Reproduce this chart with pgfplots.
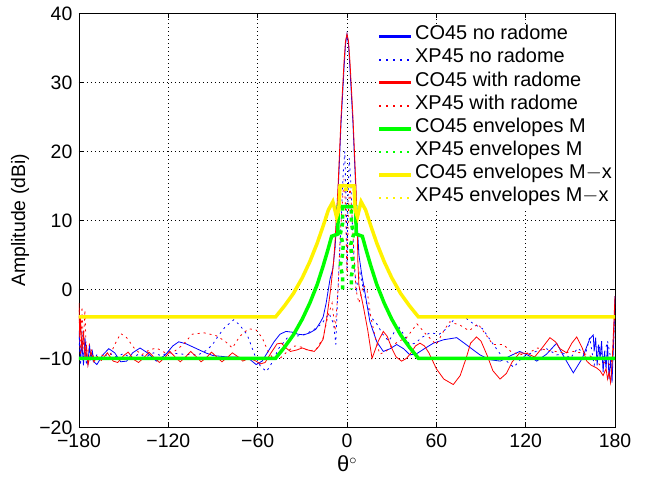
\documentclass[border=0pt]{standalone}
\usepackage{fontspec}
\setmainfont{Liberation Sans}
\usepackage{pgfplots}
\pgfplotsset{compat=1.18}
\begin{document}
\fontsize{19.5}{22}\selectfont
\begin{tikzpicture}
\begin{axis}[
  scale only axis, width=536bp, height=414bp,
  xmin=-180, xmax=180, ymin=-20, ymax=40,
  xtick={-180,-120,-60,0,60,120,180},
  xticklabels={−180,−120,−60,0,60,120,180},
  ytick={-20,-10,0,10,20,30,40},
  yticklabels={−20,−10,0,10,20,30,40},
  tick align=inside, major tick length=5bp,
  tick style={black, line width=0.6bp},
  axis line style={line width=0.8bp},
  grid=major,
  grid style={black, line width=0.6bp, dash pattern=on 0.6bp off 3.4bp},
  every axis y label/.style={at={(axis description cs:-0.11,0.5)}, rotate=90, anchor=center},
  every axis x label/.style={at={(axis description cs:0.5,-0.088)}, anchor=center},
  ylabel={Amplitude (dBi)},
  xlabel={\fontsize{22}{24}\selectfont θ$^{\circ}$},
  legend cell align=left,
  legend style={at={(1,0.975)}, anchor=north east, draw=none, fill=white,
    inner sep=1bp, row sep=0pt,
    nodes={inner ysep=0bp, inner xsep=2bp, text height=15bp, text depth=8.1bp, font=\fontsize{20}{22}\selectfont}},
  legend image code/.code={\draw[#1] (0bp,0bp) -- (32bp,0bp);},
]
% CO45 no radome
\addplot[blue, line width=0.8bp, legend image post style={line width=2.5bp}] coordinates {
(-180,-6)(-179,-10)(-178,-8)(-177,-11)(-176,-7)(-175,-9.5)(-174,-10.8)(-173,-8)(-172,-10)(-171,-9)(-170,-10.5)
(-168,-10.9)(-164,-9.5)(-160,-8.6)(-156,-9.2)(-152,-10.5)(-148,-10.4)(-144,-9.2)(-139,-8.5)(-134,-9.2)
(-128,-10.4)(-122,-9.5)(-117,-8.2)(-113,-7.6)(-108,-7.9)(-104,-8.3)(-99,-8.8)(-95,-9.2)(-90,-9.6)(-85,-9.7)
(-80,-9.8)(-75,-9.8)(-70,-9.9)(-65,-10.2)(-61,-10.9)(-57,-10.4)(-53,-9.0)(-49,-7.6)(-45,-6.5)(-41,-6.1)
(-37,-6.2)(-33,-6.5)(-29,-6.6)(-25,-6.3)(-21,-5.8)(-18,-4.8)(-16,-4)(-14,-2)(-11.4,1.5)(-9.5,3)(-8,6)
(-7,10)(-6,14)(-5,19)(-4,24)(-3,28)(-2,32)(-1,35.5)(0,37)(1,35.5)(2,32)(3,28)(4,24)(5,19)(6,14)(7,9)
(8,5)(10,2)(12,-0.4)(15.4,-4.7)(20,-7.6)(24.4,-9)(29,-8.6)(33.4,-8.0)(38,-8.6)(42.3,-9.5)(47,-9.3)
(52,-8.6)(58,-7.8)(65,-7.3)(73.7,-7.0)(80,-8)(89.3,-9.5)(96,-10.2)(103,-10.4)(110,-9.6)(116,-9.0)
(122,-9.6)(127.4,-10.4)(134,-9.4)(140.8,-7.8)(145,-9.5)(152,-12.1)(158,-10)(163,-7.2)(165.4,-6.6)
(166,-9)(167,-7)(168,-11)(169,-8)(170,-10)(171,-7.5)(172,-12)(173,-9)(174,-11.5)(175,-8)(176,-13)
(177,-10)(178,-13.5)(179,-8)(180,-1)
};
\addlegendentry{CO45 no radome}
% XP45 no radome
\addplot[blue, line width=0.8bp, dash pattern=on 2bp off 4bp, legend image post style={blue, line width=2bp, dash pattern=on 2bp off 5bp}] coordinates {
(-180,-7)(-179,-11)(-178,-6)(-177,-10)(-176,-8)(-175,-11)(-173,-9)(-171,-10.5)(-168,-9.5)(-164,-10)
(-160,-9.2)(-155,-9.8)(-150,-9.3)(-145,-10)(-140,-9.4)(-135,-9.8)(-130,-9.2)(-125,-9.6)(-120,-9.2)
(-110,-9.4)(-100,-9.5)(-94,-8.8)(-90,-7.9)(-86,-6.6)(-82,-5.5)(-76,-4.4)(-72,-5.2)(-67,-6.6)(-62,-9.5)
(-58,-11.2)(-54,-11.9)(-50,-10.5)(-46,-8.6)(-40,-7)(-34,-6.8)(-28,-6.5)(-22,-5.8)(-17,-5)(-12,-3.5)
(-9,-5)(-7.5,-8)(-6.5,-2)(-5,5)(-3.5,12)(-2.5,17)(-1.5,20)(-0.5,12)(0,3)(0.5,12)(1.5,19)(2.5,16)
(3.5,10)(5,3)(6.5,0)(8.7,2.4)(11,0)(13.4,-2.3)(16,-4)(20,-5)(24,-6.5)(28,-7.5)(31,-6.5)(34,-5.2)
(38,-6.5)(42,-8)(46,-7.8)(50,-7)(55.7,-6.3)(62,-6.5)(68,-5.5)(72,-4.3)(76,-3.7)(80,-4.2)(85,-5)
(91,-5.7)(98,-7.9)(105,-10)(112,-11.3)(118,-9.8)(124,-9.2)(130,-8.8)(134,-8.6)(141,-9.5)(146,-9.3)
(150,-10)(155,-8.5)(160,-9.5)(163,-7)(166,-11)(169,-8)(172,-10)(175,-7.5)(178,-11)(180,-3)
};
\addlegendentry{XP45 no radome}
% CO45 with radome
\addplot[red, line width=0.8bp, legend image post style={line width=2.5bp}] coordinates {
(-180,-2)(-179.5,-7)(-179,-4)(-178,-9)(-177,-6)(-176,-10)(-175,-8)(-174,-11)(-172,-9)(-170,-10.5)
(-168,-9.8)(-165,-10.3)(-161,-9.2)(-157,-10.4)(-154,-10.6)(-150,-9.6)(-147,-9.1)(-143,-10.2)(-140,-10.6)
(-136,-9.8)(-133,-9.1)(-129,-10)(-126,-10.6)(-122,-9.8)(-119,-9.0)(-115,-9.9)(-112,-10.5)(-108,-9.7)
(-105,-9.0)(-101,-9.8)(-98,-10.5)(-94,-9.8)(-91,-9.1)(-87,-9.9)(-84,-10.5)(-80,-9.8)(-77,-9.2)
(-73,-9.8)(-70,-10.4)(-66,-10.0)(-62,-10.3)(-58,-10.8)(-55,-10.6)(-51,-9.2)(-47,-7.9)(-44,-7.8)
(-41,-8.5)(-38,-9.0)(-34,-8.8)(-30,-8.5)(-26,-8.8)(-22,-9.0)(-19,-8.3)(-16,-7.2)(-13.6,-4.2)
(-11,0)(-9,4)(-8,7)(-7,11)(-6,15)(-5,20)(-4,25)(-3,29)(-2,33)(-1,36)(0,37)(1,36)(2,33)(3,29)(4,25)
(5,20)(6,15)(6.8,10)(7.3,4)(8,0.6)(11,-2.5)(14,-6)(16.8,-10)(17.7,-9.5)(21,-7.5)(24.4,-6.1)(27,-6.8)
(30,-8.5)(33,-9.8)(36.7,-10.4)(40,-10)(43,-9.2)(46,-8.2)(49,-7.8)(52,-8.2)(55,-9.2)(60,-11.5)
(65,-13)(71.4,-13.8)(76,-12.5)(80,-10)(83,-7.8)(87,-6.9)(90,-7.5)(94,-9.5)(98,-11.8)(102.8,-13)
(107,-12.2)(111,-10.5)(116,-9.2)(121,-9.3)(126,-9.8)(131,-8.5)(136.3,-7)(140,-7.6)(143,-8.6)
(147.5,-9.2)(151,-7.8)(154.3,-6.9)(158,-8.5)(161,-10.4)(164,-11)(167.7,-11.4)(170,-11.8)(172,-12.5)
(174,-11.5)(175,-13)(176,-12)(177,-13.5)(178,-11)(179,-6)(180,-1)
};
\addlegendentry{CO45 with radome}
% XP45 with radome
\addplot[red, line width=0.8bp, dash pattern=on 2bp off 4bp, legend image post style={red, line width=2bp, dash pattern=on 2bp off 5bp}] coordinates {
(-180,-3)(-179,-10)(-178,-2.5)(-177,-8)(-176,-3)(-175,-10)(-173,-8)(-170,-10)(-165,-9.5)(-160,-10)
(-156,-8)(-152,-6.4)(-148,-7)(-143,-8.5)(-138,-9.5)(-133,-8.8)(-128,-8.5)(-122,-9.2)(-116,-9)
(-110,-8)(-104,-6.5)(-96,-6.3)(-88,-6.7)(-82,-7.5)(-77,-8.5)(-72,-6.8)(-66,-5.7)(-61,-5.9)(-57,-7)
(-53,-9)(-49,-10.2)(-45,-10)(-40,-9)(-35,-8.2)(-30,-8.4)(-25,-9.0)(-20,-8.5)(-16,-7)(-13,-4)(-10,-2)
(-8,-6)(-6,0)(-4.5,8)(-3,13)(-2,16)(-1,12)(0,2)(1,12)(2,15)(3,12)(4.5,6)(6,0)(8,-2)(11,0.6)(13.4,0)
(16,-4)(19,-7)(22,-9.4)(26,-9)(30,-8.2)(35,-7.5)(40,-7)(47,-5)(53,-6.5)(60,-8)(65,-6)(69,-4.7)
(76,-5.2)(82,-6)(88,-5)(93,-6.5)(98,-8)(105,-8)(110,-9)(116,-9.5)(122,-9.2)(128,-8.5)(134,-8.8)
(140,-9)(146,-9.2)(152,-9)(157,-9.2)(162,-9.5)(166,-10)(170,-11)(174,-10.5)(177,-11)(179,-9)(180,-2)
};
\addlegendentry{XP45 with radome}
% CO45 envelopes M
\addplot[green, line width=3.5bp] coordinates {
(-180,-10)(-48,-10)(-42,-8.4)(-36,-6.6)(-30,-4.3)(-25,-2)(-20,0.7)(-16,3.4)(-13,5.6)(-10.3,7.7)
(-6.2,8)(-5.8,12)(5.8,12)(6.2,8)(10.3,7.7)(13,5.6)(16,3.4)(20,0.7)(25,-2)(30,-4.3)(36,-6.6)(42,-8.4)
(48,-10)(180,-10)
};
\addlegendentry{CO45 envelopes M}
% XP45 envelopes M
\addplot[green, line width=3.5bp, dash pattern=on 4bp off 4bp, legend image post style={green, line width=2bp, dash pattern=on 2bp off 5bp}] coordinates {
(-3,0)(-3,2)(-4.5,3.5)(-3,5)(-2.5,6.5)(-4.5,8)(-3,9.5)(-3,12)(3,12)(3,9.5)(4.5,8)(2.5,6.5)(3,5)
(4.5,3.5)(3,2)(3,0)
};
\addlegendentry{XP45 envelopes M}
% CO45 envelopes M-x
\addplot[yellow, line width=3.5bp] coordinates {
(-180,-4)(-48,-4)(-42,-2.4)(-36,-0.6)(-30,1.7)(-25,4)(-20,6.7)(-16,9.2)(-12.5,11.5)(-9.5,12.7)
(-7,10.5)(-5.5,11.5)(-4.7,15)(4.7,15)(5.5,11.5)(7,10.5)(9.5,12.7)(12.5,11.5)(16,9.2)(20,6.7)(25,4)
(30,1.7)(36,-0.6)(42,-2.4)(48,-4)(180,-4)
};
\addlegendentry{CO45 envelopes M$-$x}
% XP45 envelopes M-x
\addplot[yellow, line width=3.5bp, dash pattern=on 4bp off 4bp, legend image post style={yellow, line width=2bp, dash pattern=on 2bp off 5bp}] coordinates {
(-2,14.5)(2,14.5)
};
\addlegendentry{XP45 envelopes M$-$x}
\end{axis}
\path (current axis.south west) ++(-79bp,-54bp) coordinate (bbA);
\path (current axis.north east) ++(31bp,13bp) coordinate (bbB);
\path (bbA) rectangle (bbB);
\end{tikzpicture}
\end{document}
